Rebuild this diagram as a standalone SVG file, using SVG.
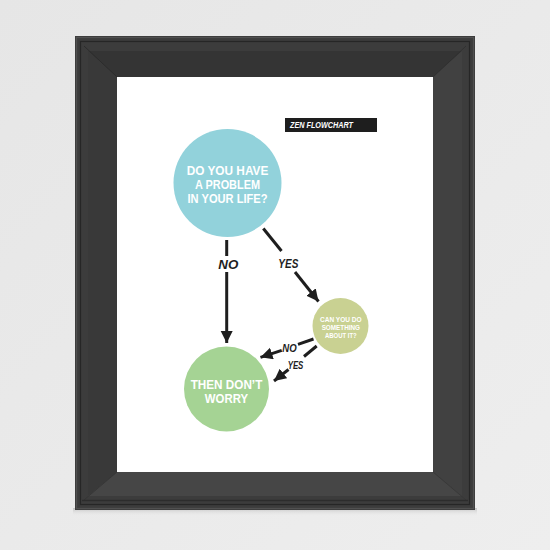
<svg xmlns="http://www.w3.org/2000/svg" width="550" height="550" viewBox="0 0 550 550">
  <defs>
    <linearGradient id="bg" x1="0" y1="0" x2="1" y2="1">
      <stop offset="0" stop-color="#e6e6e6"/>
      <stop offset="1" stop-color="#eeeeee"/>
    </linearGradient>
    <linearGradient id="shadow" x1="0" y1="0" x2="0" y2="1">
      <stop offset="0" stop-color="#c4c4c4"/>
      <stop offset="1" stop-color="#e8e8e8" stop-opacity="0"/>
    </linearGradient>
    <marker id="head" markerUnits="userSpaceOnUse" markerWidth="13" markerHeight="13" refX="12" refY="6" orient="auto">
      <path d="M0,0 L12,6 L0,12 z" fill="#1e1e1e"/>
    </marker>
    <style>
      .conn { stroke: #1e1e1e; stroke-width: 3; fill: none; }
      .arrow { marker-end: url(#head); }
      .big { font-family: "Liberation Sans", Arial, sans-serif; font-weight: 700; fill: #ffffff; text-anchor: middle; }
      .lbl { font-family: "Liberation Sans", Arial, sans-serif; font-weight: 700; font-style: italic; fill: #1e1e1e; text-anchor: middle; }
    </style>
  </defs>

  <!-- photo background and frame -->
  <rect x="0" y="0" width="550" height="550" fill="url(#bg)"/>
  <rect x="73" y="508" width="404" height="8" fill="url(#shadow)"/>
  <rect x="75" y="36" width="400" height="474" fill="#3c3c3c"/>
  <rect x="76.5" y="37.5" width="397" height="471" fill="none" stroke="#505050" stroke-width="1.2"/>
  <rect x="80.5" y="41.5" width="389" height="463" fill="none" stroke="#262626" stroke-width="1.2"/>
  <!-- bevels -->
  <polygon points="88,51 462,51 433,77 117,77" fill="#343434"/>
  <polygon points="88,51 117,77 117,472 88,496" fill="#393939"/>
  <polygon points="462,51 462,496 433,472 433,77" fill="#414141"/>
  <polygon points="88,496 117,472 433,472 462,496" fill="#464646"/>
  <line x1="84" y1="46" x2="117" y2="77" stroke="#2c2c2c" stroke-width="1"/>
  <line x1="466" y1="46" x2="433" y2="77" stroke="#2f2f2f" stroke-width="0.8"/>
  <line x1="84" y1="500" x2="117" y2="472" stroke="#333333" stroke-width="0.8"/>
  <line x1="466" y1="500" x2="433" y2="472" stroke="#363636" stroke-width="0.8"/>
  <line x1="82" y1="500.5" x2="468" y2="500.5" stroke="#2c2c2c" stroke-width="1.5"/>
  <rect x="117" y="77" width="316" height="395" fill="#ffffff"/>

  <!-- title tag -->
  <g id="title">
    <rect x="285" y="118" width="92" height="14" fill="#1e1e1e"/>
    <text x="290" y="128.3" font-family="'Liberation Sans', Arial, sans-serif" font-weight="700" font-style="italic" font-size="9.5" fill="#ffffff" textLength="63" lengthAdjust="spacingAndGlyphs">ZEN FLOWCHART</text>
  </g>

  <!-- nodes -->
  <g id="node-problem">
    <circle cx="227.5" cy="183" r="54" fill="#92d2db"/>
    <text class="big" x="227.5" y="174.7" font-size="12.5" textLength="81.7" lengthAdjust="spacingAndGlyphs">DO YOU HAVE</text>
    <text class="big" x="227.5" y="188.7" font-size="12.5" textLength="65" lengthAdjust="spacingAndGlyphs">A PROBLEM</text>
    <text class="big" x="227.5" y="202.7" font-size="12.5" textLength="80" lengthAdjust="spacingAndGlyphs">IN YOUR LIFE?</text>
  </g>

  <g id="node-cando">
    <circle cx="340.5" cy="326" r="28" fill="#c9d192"/>
    <text class="big" x="340.8" y="322.4" font-size="7" textLength="41.7" lengthAdjust="spacingAndGlyphs">CAN YOU DO</text>
    <text class="big" x="340.8" y="330.2" font-size="7" textLength="38.3" lengthAdjust="spacingAndGlyphs">SOMETHING</text>
    <text class="big" x="340.8" y="338" font-size="7" textLength="31.7" lengthAdjust="spacingAndGlyphs">ABOUT IT?</text>
  </g>

  <g id="node-worry">
    <circle cx="226.5" cy="389" r="42.5" fill="#a5d394"/>
    <text class="big" x="226.5" y="389.4" font-size="12.5" textLength="71.6" lengthAdjust="spacingAndGlyphs">THEN DON’T</text>
    <text class="big" x="226.5" y="403.4" font-size="12.5" textLength="43.3" lengthAdjust="spacingAndGlyphs">WORRY</text>
  </g>

  <!-- connectors -->
  <g id="connectors">
    <line class="conn" x1="226.7" y1="240" x2="226.7" y2="256"/>
    <line class="conn arrow" x1="226.7" y1="272" x2="226.7" y2="343"/>
    <line class="conn" x1="263.3" y1="228.5" x2="281.5" y2="251"/>
    <line class="conn arrow" x1="295" y1="272" x2="318.5" y2="301.5"/>
    <line class="conn" x1="313.5" y1="339" x2="298" y2="344.3"/>
    <line class="conn arrow" x1="281.7" y1="350.3" x2="260.5" y2="357.3"/>
    <line class="conn" x1="316.7" y1="346" x2="304" y2="356.5"/>
    <line class="conn arrow" x1="288.5" y1="369.5" x2="274" y2="381"/>
  </g>

  <!-- connector labels -->
  <g id="labels">
    <text class="lbl" x="228.3" y="269" font-size="12.5" textLength="20" lengthAdjust="spacingAndGlyphs">NO</text>
    <text class="lbl" x="288.3" y="267.7" font-size="12.5" textLength="20" lengthAdjust="spacingAndGlyphs">YES</text>
    <text class="lbl" x="289.5" y="351.7" font-size="11" textLength="14.4" lengthAdjust="spacingAndGlyphs">NO</text>
    <text class="lbl" x="295.5" y="369" font-size="11" textLength="15.7" lengthAdjust="spacingAndGlyphs">YES</text>
  </g>
</svg>
